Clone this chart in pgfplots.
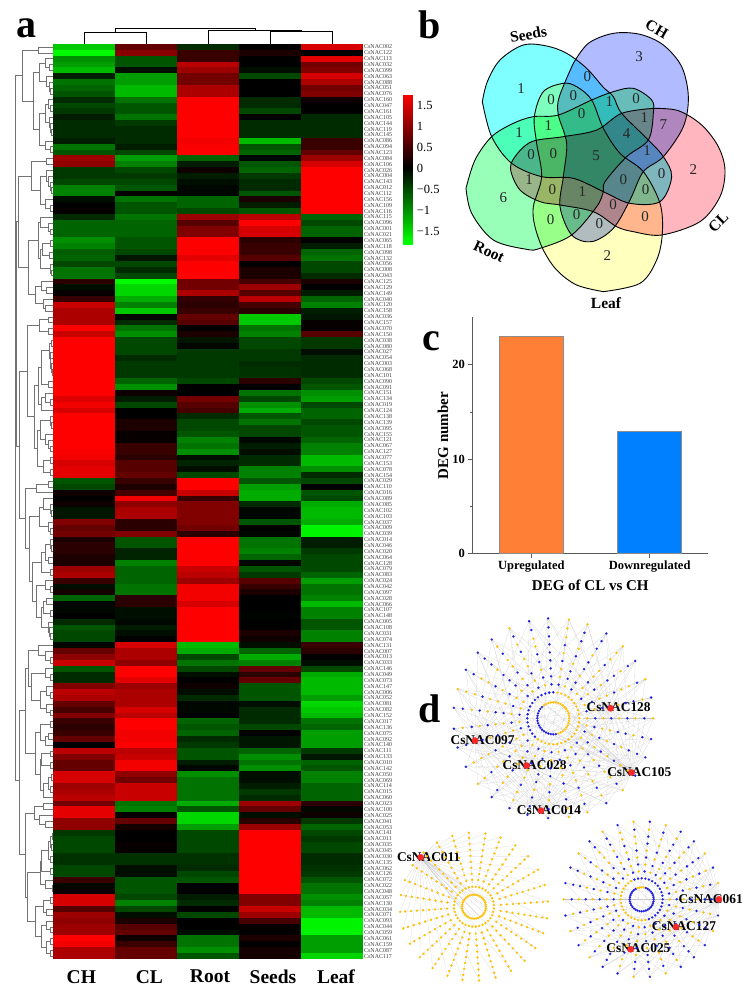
\documentclass[border=0pt]{standalone}
\usepackage{fontspec}
\setmainfont{Liberation Serif}
\usepackage{pgfplots}
\usepackage{pgfplotstable}
\usepgfplotslibrary{polar}
\pgfplotsset{compat=1.18}

\definecolor{netblue}{RGB}{30,30,225}
\definecolor{netgold}{RGB}{255,192,0}
\definecolor{nethub}{RGB}{250,40,40}

\pgfdeclareplotmark{heatbox}{\pgfpathrectangle{\pgfpoint{-31.05pt}{-3pt}}{\pgfpoint{62.1pt}{6pt}}\pgfusepathqfill}
\pgfdeclareplotmark{cbcell}{\pgfpathrectangle{\pgfpoint{-4.7pt}{-1.2pt}}{\pgfpoint{9.4pt}{2.4pt}}\pgfusepathqfill}

\pgfplotsset{
  plain/.style={scale only axis, hide axis, clip=false, point meta=none},
  heatcol/.style={colormap={rg}{rgb255=(0,255,0) rgb255=(0,0,0) rgb255=(255,0,0)}, point meta min=-1.78, point meta max=1.78},
  heatcell/.style={scatter, only marks, mark=heatbox},
  dtree/.style={draw=black!55, line width=.45pt, forget plot},
  netedge/.style={draw=black!22, line width=.1pt, forget plot, data cs=polar},
  bdot/.style={scatter=false, only marks, color=netblue, mark=*, mark size=1.15pt, mark options={draw=netblue, fill=netblue, line width=.1pt}, data cs=polar},
  gdot/.style={scatter=false, only marks, color=netgold, mark=*, mark size=1.15pt, mark options={draw=netgold, fill=netgold, line width=.1pt}, data cs=polar},
  hubdot/.style={scatter=false, only marks, color=nethub, mark=*, mark size=3.2pt, mark options={draw=nethub, fill=nethub, line width=.1pt}, data cs=polar},
  petal/.style={smooth, tension=0.55, draw=black, line width=.9pt, blend mode=multiply},
}
\newcommand\B[5]{\addplot[dtree] coordinates {(#4,#2)(#1,#2)(#1,#3)(#5,#3)};}
\newcommand\fan[4]{\foreach \a in #4 {\edef\temp{\noexpand\addplot[netedge] coordinates {(#1,#2)(\a,#3)};}\temp}}
\newcommand\spokes[3]{\foreach \a in #3 {\edef\temp{\noexpand\addplot[netedge] coordinates {(\a,#1)(\a,#2)};}\temp}}
\newcommand\netlabel[2]{\node[font=\fontsize{13.4}{13.4}\selectfont\bfseries, inner sep=0pt] at (axis cs:#1) {#2};}

\def\raysA{0,12,23,35,46,58,70,81,93,104,116,128,139,151,163,174,186,197,209,221,232,244,255,267,279,290,302,314,325,337,348}
\def\raysB{4,17,30,43,56,69,81,94,107,120,133,146,159,171,184,197,210,223,236,249,261,274,287,300,313,326,339,351}
\def\raysC{0,12,24,36,48,60,72,84,96,108,120,132,144,156,168,180,192,204,216,228,240,252,264,276,288,300,312,324,336,348}
\def\ringA{0,40,80,120,160,200,240,280,320}
\def\ringB{0,30,60,90,120,150,180,210,240,270,300,330}

\pgfplotstableread{
name CH CL Root Seeds Leaf
CsNAC002 -1.4 0.7 -0.3 0 1.5
CsNAC122 -1.75 0.95 0.4 0.2 0
CsNAC113 -1.0 -0.6 0.4 0 1.6
CsNAC032 -1.1 -0.6 1.3 0 0.8
CsNAC099 -1.3 -0.1 1.1 -0.1 0.9
CsNAC063 -0.2 -1.1 0.8 -0.5 1.5
CsNAC088 -0.8 -1.1 0.8 0 1.2
CsNAC051 -0.7 -1.3 1.2 0 0.8
CsNAC076 -0.6 -1.3 1.2 0 0.9
CsNAC160 -0.3 -0.8 1.8 -0.3 0.1
CsNAC047 -0.5 -0.6 1.8 -0.3 0
CsNAC161 -0.4 -0.6 1.8 -0.5 0
CsNAC105 -0.2 -0.8 1.8 0 -0.3
CsNAC144 -0.3 -0.4 1.8 -0.3 -0.3
CsNAC119 -0.3 -0.3 1.8 -0.3 -0.3
CsNAC145 -0.3 -0.3 1.8 -0.3 -0.3
CsNAC086 -0.2 -0.3 1.7 -1.3 0.4
CsNAC094 -0.8 -0.2 1.75 -0.6 0.4
CsNAC123 -0.6 -0.5 1.8 -0.7 0.7
CsNAC084 1.1 -1.1 -0.7 -0.05 1.1
CsNAC106 1.0 -0.9 -0.2 -0.6 1.5
CsNAC026 -0.4 -0.5 0.1 -0.7 1.8
CsNAC004 -0.4 -0.4 -0.2 -0.4 1.8
CsNAC143 -0.5 -0.5 -0.1 -0.3 1.8
CsNAC012 -0.9 -0.6 -0.05 -0.3 1.8
CsNAC112 -0.9 0.05 -0.05 -0.6 1.8
CsNAC156 -0.1 -0.8 -0.7 0.2 1.8
CsNAC109 0 -0.6 -0.7 -0.2 1.8
CsNAC116 0.05 -0.6 -0.5 -0.6 1.8
CsNAC115 -0.3 -0.8 1.1 1.3 -0.7
CsNAC096 -0.7 -0.7 0.6 1.8 -0.5
CsNAC001 -0.7 -0.7 0.9 1.5 -0.7
CsNAC021 -0.7 -0.7 0.9 1.5 -0.7
CsNAC065 -1.0 -0.6 1.8 0.3 0
CsNAC118 -0.9 -0.6 1.8 0.4 -0.2
CsNAC098 -0.65 -0.5 1.8 0.4 -0.7
CsNAC132 -0.7 -0.15 1.6 0.6 -0.8
CsNAC056 -0.5 -0.5 1.8 0 -0.5
CsNAC008 -0.8 -0.3 1.8 0.2 -0.5
CsNAC043 -0.8 -0.5 1.8 0.2 -0.3
CsNAC125 0.3 -1.75 0.8 0.5 0.2
CsNAC129 -0.1 -1.5 0.8 1.1 0
CsNAC149 0.05 -1.5 1.2 0.6 -0.2
CsNAC040 0.4 -1.2 0.35 1.3 -0.7
CsNAC120 1.4 -0.9 0.3 0.5 -0.9
CsNAC158 1.2 -1.4 0.4 0.3 -0.2
CsNAC036 1.2 -0.05 0.7 -1.4 -0.15
CsNAC157 1.2 -0.3 0.6 -1.4 0.05
CsNAC070 1.8 -0.8 0 -0.8 0.05
CsNAC150 1.4 -1.0 0.2 -0.9 0.6
CsNAC038 1.8 -0.5 -0.15 -0.5 -0.4
CsNAC080 1.8 -0.5 -0.05 -0.5 -0.4
CsNAC027 1.8 -0.5 -0.4 -0.4 -0.1
CsNAC054 1.8 -0.3 -0.4 -0.4 -0.3
CsNAC003 1.8 -0.4 -0.4 -0.3 -0.3
CsNAC068 1.8 -0.4 -0.4 -0.35 -0.3
CsNAC101 1.8 -0.4 -0.4 -0.35 -0.3
CsNAC090 1.8 -0.7 -0.5 0.3 -0.5
CsNAC091 1.8 -1.0 0 0 -0.6
CsNAC151 1.8 0.1 0 -0.8 -1.0
CsNAC134 1.55 -0.2 0.8 -0.5 -1.1
CsNAC019 1.7 -0.5 0.6 -1.0 -0.5
CsNAC124 1.5 0 0.5 -1.2 -0.7
CsNAC138 1.8 0 -0.3 -0.6 -0.7
CsNAC139 1.8 0.2 -0.5 -0.8 -0.5
CsNAC095 1.8 0.2 -0.5 -0.5 -0.6
CsNAC155 1.8 0.05 -0.6 -0.5 -0.6
CsNAC121 1.8 0.05 -0.9 -0.05 -0.7
CsNAC067 1.8 0.4 -0.8 -0.2 -0.9
CsNAC127 1.75 0.4 -1.0 -0.1 -0.9
CsNAC077 1.7 0.3 -0.1 -0.3 -1.3
CsNAC153 1.5 0.6 -0.25 -0.3 -1.3
CsNAC078 1.6 0.6 -0.1 -0.9 -1.0
CsNAC154 1.6 0.7 -0.5 -0.9 -0.3
CsNAC029 -0.6 0.4 1.8 -0.6 -0.5
CsNAC110 -0.5 0.2 1.8 -1.1 0
CsNAC016 0.1 0.5 1.4 -1.2 -0.6
CsNAC089 0 1.7 0.4 -1.2 -0.5
CsNAC085 0.1 1.0 0.9 -0.3 -1.2
CsNAC102 -0.15 1.2 0.9 -0.05 -1.3
CsNAC103 -0.15 1.2 0.9 -0.05 -1.3
CsNAC037 0.9 0.3 0.9 -0.6 -1.2
CsNAC009 0.7 0.3 0.8 0 -1.7
CsNAC039 0.8 0.9 0.3 -0.05 -1.7
CsNAC014 0.2 -0.6 1.8 -0.8 -0.2
CsNAC046 0.3 -0.6 1.8 -0.8 -0.2
CsNAC020 0.3 -0.25 1.8 -0.9 -0.4
CsNAC064 0.2 -0.25 1.8 -0.7 -0.5
CsNAC128 0.2 -0.9 1.8 -0.05 -0.5
CsNAC079 1.1 -0.7 1.4 -0.6 -0.5
CsNAC083 1.2 -0.7 1.3 -0.4 -0.7
CsNAC024 0.4 -0.7 1.1 0.6 -1.1
CsNAC042 -0.1 -0.8 1.7 0.4 -0.8
CsNAC097 0.15 -0.8 1.7 0.2 -0.8
CsNAC028 -0.7 0.3 1.7 0 -0.9
CsNAC066 -0.05 0.3 1.5 0 -1.3
CsNAC107 -0.05 -0.1 1.8 0 -0.9
CsNAC148 0 -0.1 1.8 -0.03 -0.9
CsNAC005 -0.3 -0.05 1.8 0 -0.6
CsNAC108 -0.6 -0.2 1.8 0 -0.6
CsNAC031 -0.5 -0.1 1.8 0.2 -0.9
CsNAC074 -0.5 0 1.8 0.1 -0.9
CsNAC131 -0.05 1.5 -1.3 -0.1 0.4
CsNAC007 0.7 1.2 -1.2 -0.7 0.3
CsNAC013 1.0 1.2 -0.5 -1.2 0
CsNAC033 1.4 1.0 -0.8 -0.9 -0.1
CsNAC146 -0.6 1.8 -0.5 0.7 -0.5
CsNAC049 -0.3 1.8 -0.1 0.3 -1.2
CsNAC073 -0.3 1.6 0 0.7 -1.3
CsNAC147 0.9 1.1 0.1 -0.6 -1.3
CsNAC006 1.3 1.2 -0.1 -0.6 -1.3
CsNAC052 1.2 1.2 -0.3 -0.6 -1.1
CsNAC081 0.7 1.2 -0.05 -0.1 -1.5
CsNAC082 0.5 1.5 -0.05 -0.3 -1.4
CsNAC152 0.9 1.3 0 -0.3 -1.3
CsNAC017 0.4 1.8 -0.7 -0.3 -0.8
CsNAC136 0.3 1.8 -0.6 -0.5 -0.7
CsNAC075 0.4 1.7 -0.7 0 -1.1
CsNAC092 0.7 1.7 -0.3 -0.15 -1.1
CsNAC140 0 1.8 -0.4 -0.15 -1.1
CsNAC111 1.3 1.3 -0.6 -0.7 -0.4
CsNAC133 0.9 1.4 -0.6 -1.0 -0.15
CsNAC010 0.7 1.7 -0.2 -0.8 -0.7
CsNAC142 0.7 1.7 -0.05 -1.0 -0.6
CsNAC050 1.5 1.0 -1.0 -0.1 -0.9
CsNAC069 1.5 0.8 -0.8 -0.1 -0.9
CsNAC114 1.1 1.4 -0.8 -0.2 -0.7
CsNAC015 1.2 1.4 -0.8 -0.4 -0.7
CsNAC060 1.3 1.4 -0.8 -0.3 -0.7
CsNAC023 0.8 -0.8 -1.2 1.1 0.3
CsNAC100 1.6 -0.9 -0.6 0.7 -0.05
CsNAC025 1.6 0.05 -1.5 -0.1 0.1
CsNAC041 1.0 0.7 -1.5 0.3 -0.4
CsNAC053 1.0 0.15 -1.1 1.1 -0.7
CsNAC141 -0.4 0 -0.5 1.8 -0.5
CsNAC011 -0.5 0 -0.5 1.8 -0.4
CsNAC035 -0.5 0.05 -0.5 1.8 -0.5
CsNAC045 -0.5 0.05 -0.5 1.8 -0.5
CsNAC030 -0.35 -0.35 -0.35 1.8 -0.3
CsNAC135 -0.35 -0.35 -0.35 1.8 -0.3
CsNAC062 -0.5 -0.1 -0.3 1.8 -0.35
CsNAC126 -0.5 -0.1 -0.5 1.8 -0.4
CsNAC072 0.4 -0.6 -0.6 1.8 -0.6
CsNAC022 -0.05 -0.6 0 1.8 -0.8
CsNAC048 0.1 -0.6 0 1.8 -0.8
CsNAC057 1.5 -0.5 -0.2 0.9 -1.0
CsNAC130 1.5 -0.9 -0.3 0.9 -0.9
CsNAC034 0.6 -0.5 0 1.4 -1.3
CsNAC071 1.1 -0.1 -0.5 1.1 -1.3
CsNAC093 1.0 0.2 0 0.5 -1.7
CsNAC044 1.1 0.6 0 0.05 -1.7
CsNAC059 1.1 0.7 -0.1 0 -1.7
CsNAC061 1.8 0.1 -0.8 0.2 -1.1
CsNAC159 1.7 0.4 -0.8 0 -1.1
CsNAC087 1.2 0.7 -1.0 0.15 -1.1
CsNAC117 1.2 0.7 -0.6 0.15 -1.5
}\heat

\begin{document}
\begin{tikzpicture}
\useasboundingbox (0,0) rectangle (749pt,996pt);

% a: row dendrogram, x in 1/3 px, y in rows
\begin{axis}[plain, at={(0pt,37pt)}, anchor=south west, width=53.3pt, height=915pt, xmin=0, xmax=160, ymin=-0.5, ymax=155.5, y dir=reverse]
\B{115}{0}{1}{160}{160}\B{147}{3}{4}{160}{160}\B{135}{2}{3.5}{160}{147}\B{150}{7}{8}{160}{160}\B{148}{6}{7.5}{160}{150}\B{140}{5}{6.75}{160}{148}\B{118}{2.75}{5.9}{135}{140}
\B{155}{14}{15}{160}{160}\B{152}{13}{14.5}{160}{155}\B{148}{12}{13.75}{160}{152}\B{150}{10}{11}{160}{160}\B{145}{9}{10.5}{160}{150}\B{135}{9.75}{12.9}{145}{148}
\B{150}{17}{18}{160}{160}\B{135}{16}{17.5}{160}{150}\B{118}{11.3}{16.75}{135}{135}\B{100}{4.3}{14}{118}{118}\B{68}{0.5}{9.2}{115}{100}
\B{140}{19}{20}{160}{160}\B{155}{24}{25}{160}{160}\B{150}{23}{24.5}{160}{155}\B{145}{22}{23.75}{160}{150}\B{140}{21}{22.9}{160}{145}\B{150}{27}{28}{160}{160}\B{135}{26}{27.5}{160}{150}\B{122}{22}{26.75}{140}{135}\B{95}{19.5}{24.4}{140}{122}
\B{150}{31}{32}{160}{160}\B{145}{30}{31.5}{160}{150}\B{120}{29}{30.7}{160}{145}\B{150}{33}{34}{160}{160}\B{147}{35}{36}{160}{160}\B{128}{33.5}{35.5}{150}{147}\B{155}{38}{39}{160}{160}\B{150}{37}{38.5}{160}{155}\B{120}{34.5}{37.75}{128}{150}\B{115}{29.85}{36.1}{120}{120}
\B{140}{41}{42}{160}{160}\B{125}{40}{41.5}{160}{140}\B{135}{44}{45}{160}{160}\B{130}{43}{44.5}{160}{135}\B{105}{40.75}{43.75}{125}{130}\B{85}{33}{42.2}{115}{105}\B{55}{22}{37.6}{95}{85}
\B{145}{46}{47}{160}{160}\B{145}{48}{49}{160}{160}\B{118}{46.5}{48.5}{145}{145}
\B{155}{50}{51}{160}{160}\B{158}{55}{56}{160}{160}\B{155}{54}{55.5}{160}{158}\B{152}{53}{54.7}{160}{155}\B{150}{52}{53.9}{160}{152}\B{148}{50.5}{53}{155}{150}\B{145}{57}{58}{160}{160}\B{125}{51.7}{57.5}{148}{145}
\B{150}{60}{61}{160}{160}\B{135}{59}{60.5}{160}{150}\B{125}{59.8}{62}{135}{160}
\B{155}{64}{65}{160}{160}\B{150}{63}{64.5}{160}{155}\B{150}{68}{69}{160}{160}\B{145}{67}{68.5}{160}{150}\B{135}{66}{67.7}{160}{145}\B{120}{63.7}{66.9}{150}{135}
\B{150}{70}{71}{160}{160}\B{150}{72}{73}{160}{160}\B{130}{70.5}{72.5}{150}{150}
\B{115}{54.6}{60.9}{125}{125}\B{113}{65.3}{71.5}{120}{130}\B{103}{57.7}{68.4}{115}{113}\B{83}{47.5}{63}{118}{103}
\B{145}{74}{75}{160}{160}\B{110}{74.5}{76}{145}{160}\B{155}{79}{80}{160}{160}\B{150}{78}{79.5}{160}{155}\B{130}{77}{78.8}{160}{150}\B{150}{82}{83}{160}{160}\B{145}{81}{82.5}{160}{150}\B{118}{78.5}{81.7}{130}{145}
\B{155}{85}{86}{160}{160}\B{150}{84}{85.5}{160}{155}\B{145}{87}{88}{160}{160}\B{135}{84.8}{87.5}{150}{145}\B{150}{89}{90}{160}{160}\B{125}{86.1}{89.5}{135}{150}
\B{150}{92}{93}{160}{160}\B{135}{91}{92.5}{160}{150}\B{150}{96}{97}{160}{160}\B{140}{94}{95}{160}{160}\B{130}{94.5}{96.5}{140}{150}\B{150}{100}{101}{160}{160}\B{148}{99}{100.5}{160}{150}\B{145}{98}{99.8}{160}{148}\B{125}{95.5}{98.9}{130}{145}\B{110}{91.7}{97.2}{135}{125}
\B{98}{87.8}{94.5}{125}{110}\B{88}{80}{91.1}{118}{98}\B{75}{75.2}{85.5}{110}{88}\B{58}{55.3}{80.4}{83}{75}
\B{150}{104}{105}{160}{160}\B{135}{103}{104.5}{160}{150}\B{115}{102}{103.7}{160}{135}\B{150}{107}{108}{160}{160}\B{135}{106}{107.5}{160}{150}
\B{150}{110}{111}{160}{160}\B{140}{109}{110.5}{160}{150}\B{150}{113}{114}{160}{160}\B{140}{112}{113.5}{160}{150}\B{120}{109.8}{112.8}{140}{140}\B{95}{106.8}{111.3}{135}{120}\B{85}{102.9}{109}{115}{95}
\B{150}{115}{116}{160}{160}\B{145}{117}{118}{160}{160}\B{135}{117.5}{119}{145}{160}\B{120}{115.5}{118.2}{150}{135}\B{150}{120}{121}{160}{160}\B{150}{122}{123}{160}{160}\B{125}{120.5}{122.5}{150}{150}
\B{155}{124}{125}{160}{160}\B{150}{126}{127}{160}{160}\B{145}{124.5}{126.5}{155}{150}\B{130}{125.5}{128}{145}{160}\B{122}{121.5}{126.7}{125}{130}\B{105}{116.9}{124}{120}{122}\B{75}{106}{120.5}{85}{105}
\B{130}{129}{130}{160}{160}\B{135}{132}{133}{160}{160}\B{118}{131}{132.5}{160}{135}\B{102}{129.5}{131.7}{130}{118}
\B{158}{134}{135}{160}{160}\B{155}{136}{137}{160}{160}\B{152}{134.5}{136.5}{158}{155}\B{150}{138}{139}{160}{160}\B{145}{135.5}{138.5}{152}{150}\B{150}{140}{141}{160}{160}\B{125}{137}{140.5}{145}{150}\B{158}{143}{144}{160}{160}\B{135}{142}{143.5}{160}{158}\B{122}{138.8}{142.7}{125}{135}
\B{150}{145}{146}{160}{160}\B{140}{147}{148}{160}{160}\B{130}{145.5}{147.5}{150}{140}\B{150}{150}{151}{160}{160}\B{140}{149}{150.5}{160}{150}\B{150}{152}{153}{160}{160}\B{150}{154}{155}{160}{160}\B{138}{152.5}{154.5}{150}{150}\B{125}{149.7}{153.5}{140}{138}\B{105}{146.5}{151.6}{130}{125}
\B{82}{140.7}{149}{122}{105}\B{75}{130.6}{144.9}{102}{82}\B{58}{113}{137.7}{75}{75}
\B{50}{29.8}{68}{55}{58}\B{47}{4.85}{125}{68}{58}
\addplot[dtree] coordinates {(47,48.9)(50,48.9)};
\end{axis}

% b: Venn outlines in 1/3 px of this panel
\begin{axis}[plain, at={(400pt,676pt)}, anchor=south west, width=349pt, height=320pt, xmin=0, xmax=1047, ymin=0, ymax=960, y dir=reverse]
\addplot[petal, fill={rgb,255:red,127;green,255;blue,255}] coordinates {(247,305)(262,245)(300,180)(370,135)(440,138)(500,160)(560,205)(610,262)(640,290)(665,340)(745,420)(790,470)(815,530)(780,605)(690,610)(610,575)(520,535)(425,530)(335,490)(275,410)(247,305)};
\addplot[petal, fill={rgb,255:red,176;green,188;blue,255}] coordinates {(520,190)(565,130)(640,100)(720,103)(790,135)(845,200)(865,290)(850,380)(790,470)(730,515)(690,600)(640,685)(575,725)(515,705)(480,620)(490,530)(500,430)(475,345)(478,290)(520,190)};
\addplot[petal, fill={rgb,255:red,255;green,182;blue,190}] coordinates {(760,325)(835,332)(905,375)(955,440)(975,510)(960,590)(900,665)(785,705)(700,695)(650,680)(580,635)(480,615)(420,605)(360,570)(332,510)(345,470)(395,425)(490,410)(590,390)(665,340)(760,325)};
\addplot[petal, fill={rgb,255:red,255;green,255;blue,190}] coordinates {(610,875)(530,855)(470,810)(430,750)(405,680)(400,620)(425,530)(410,430)(403,350)(430,275)(490,250)(530,260)(575,300)(610,385)(660,460)(730,515)(780,610)(787,700)(770,780)(720,850)(610,875)};
\addplot[petal, fill={rgb,255:red,152;green,255;blue,185}] coordinates {(198,565)(225,480)(275,410)(340,370)(400,350)(475,345)(575,300)(640,275)(700,265)(755,300)(760,340)(745,420)(680,470)(615,545)(610,575)(590,620)(515,705)(420,745)(380,748)(280,720)(215,640)(198,565)};
\begin{scope}[every node/.style={font=\fontsize{15}{15}\selectfont, inner sep=0pt, text=black!85}]
\node at (axis cs:363,265) {1}; \node at (axis cs:717,170) {3}; \node at (axis cs:562,230) {0}; \node at (axis cs:453,298) {0};
\node at (axis cs:520,288) {0}; \node at (axis cs:628,305) {1}; \node at (axis cs:708,295) {0}; \node at (axis cs:545,342) {0};
\node at (axis cs:357,397) {1}; \node at (axis cs:445,377) {1}; \node at (axis cs:733,352) {1}; \node at (axis cs:790,373) {7};
\node at (axis cs:680,400) {4}; \node at (axis cs:393,463) {0}; \node at (axis cs:460,462) {0}; \node at (axis cs:588,468) {5};
\node at (axis cs:741,452) {1}; \node at (axis cs:880,510) {2}; \node at (axis cs:785,522) {0}; \node at (axis cs:387,540) {1};
\node at (axis cs:457,568) {0}; \node at (axis cs:670,540) {0}; \node at (axis cs:737,568) {0}; \node at (axis cs:547,575) {1};
\node at (axis cs:310,592) {6}; \node at (axis cs:639,615) {0}; \node at (axis cs:452,660) {0}; \node at (axis cs:530,645) {0};
\node at (axis cs:598,672) {0}; \node at (axis cs:735,650) {0}; \node at (axis cs:622,768) {2};
\end{scope}
\begin{scope}[every node/.style={font=\fontsize{15.5}{15.5}\selectfont\bfseries, inner sep=0pt}]
\node[rotate=10] at (axis cs:385,103) {Seeds}; \node[rotate=-30] at (axis cs:770,88) {CH};
\node[rotate=45] at (axis cs:955,668) {CL}; \node[rotate=-25] at (axis cs:267,755) {Root};
\node at (axis cs:618,910) {Leaf};
\end{scope}
\end{axis}

% c: bar chart
\begin{axis}[at={(472.3pt,442.3pt)}, anchor=south west, scale only axis, width=236pt, height=236.4pt, clip=false,
  xmin=-0.4986, xmax=1.496, ymin=0, ymax=25, axis lines=left, axis line style={-, draw=black!65, line width=.7pt},
  tick style={draw=black!65, line width=.6pt}, tick align=outside, major tick length=4pt, minor tick length=2.5pt,
  xtick={0,1}, xticklabels={Upregulated,Downregulated}, ytick={0,10,20}, minor y tick num=1,
  /pgf/number format/assume math mode=true, tick label style={font=\fontsize{12.5}{12.5}\selectfont\bfseries},
  xlabel={DEG of CL vs CH}, ylabel={DEG number},
  xlabel style={font=\fontsize{15}{15}\selectfont\bfseries},
  ylabel style={font=\fontsize{15}{15}\selectfont\bfseries, yshift=-3pt}]
\addplot[ybar, bar width=64pt, bar shift=0pt, fill={rgb,255:red,255;green,127;blue,54}, draw=black!45] coordinates {(0,23)};
\addplot[ybar, bar width=64pt, bar shift=0pt, fill={rgb,255:red,0;green,127;blue,255}, draw=black!45] coordinates {(1,13)};
\end{axis}

% d: networks, points as (angle, radius in px) about each centre
\begin{axis}[plain, at={(553.3pt,277.7pt)}, anchor=center, width=220pt, height=220pt, xmin=-110, xmax=110, ymin=-110, ymax=110]
\spokes{30}{100}{\raysA}
\fan{9.9}{58.2}{100}{\raysA}\fan{195.9}{81.4}{100}{\raysA}\fan{240.6}{54.3}{100}{\raysA}\fan{325.3}{95.3}{100}{\raysA}\fan{262.4}{93.1}{100}{\raysA}
\fan{325.3}{95.3}{16}{\ringA}
\addplot[bdot] coordinates {
(0,42)(0,58)(0,74)(0,91)(12,34)(12,50)(12,58)(12,74)(12,82)(12,100)(23,42)(23,66)(23,91)(35,34)(35,50)(35,66)(35,74)(35,91)(35,100)(46,50)(46,74)
(58,34)(58,42)(58,58)(58,66)(58,82)(58,91)(58,100)(70,42)(70,50)(70,66)(70,82)(70,91)(81,34)(81,58)(81,74)(93,34)(93,42)(93,50)(93,58)(93,66)(93,74)(93,82)(93,91)(93,100)
(104,42)(104,58)(104,66)(104,91)(104,100)(116,34)(116,50)(116,74)(116,91)(128,42)(128,58)(128,82)(128,100)(139,34)(139,50)(139,58)(139,66)(139,82)(139,91)(139,100)
(151,50)(151,66)(151,91)(151,100)(163,42)(163,74)(174,34)(174,50)(174,58)(174,74)(174,91)(174,100)(186,42)(186,66)(186,82)(186,100)(197,34)(197,58)(197,74)(197,91)(197,100)
(209,50)(209,66)(209,100)(221,34)(221,58)(221,82)(232,42)(232,66)(232,91)(232,100)(244,34)(244,50)(244,74)(244,100)(255,42)(255,58)(255,66)(255,82)(255,91)(255,100)
(267,34)(267,50)(267,58)(267,74)(267,91)(267,100)(279,42)(279,66)(279,82)(290,34)(290,50)(290,74)(290,91)(302,42)(302,58)(302,82)(302,100)(314,34)(314,50)(314,66)(314,91)
(325,42)(325,58)(325,74)(325,100)(337,34)(337,50)(337,66)(337,82)(337,91)(337,100)(348,42)(348,66)(348,74)(348,91)(348,100)
(135,16)(144,16)(153,16)(162,16)(171,16)(180,16)(189,16)(198,16)(207,16)(216,16)(225,16)(234,16)(243,16)(252,16)(261,16)(270,16)(279,16)
(90,26)(99,26)(108,26)(117,26)(126,26)(135,26)(144,26)(153,26)(162,26)(171,26)(180,26)(189,26)(198,26)(207,26)(216,26)(225,26)};
\addplot[gdot] coordinates {
(0,34)(0,50)(0,66)(0,82)(0,100)(12,42)(12,66)(12,91)(23,34)(23,50)(23,58)(23,74)(23,82)(23,100)(35,42)(35,58)(35,82)(46,34)(46,42)(46,58)(46,66)(46,82)(46,91)(46,100)
(58,50)(58,74)(70,34)(70,58)(70,74)(70,100)(81,42)(81,50)(81,66)(81,82)(81,91)(81,100)(104,34)(104,50)(104,74)(104,82)(116,42)(116,58)(116,66)(116,82)(116,100)
(128,34)(128,50)(128,66)(128,74)(128,91)(139,42)(139,74)(151,34)(151,42)(151,58)(151,74)(151,82)(163,34)(163,50)(163,58)(163,66)(163,82)(163,91)(163,100)
(174,42)(174,66)(174,82)(186,34)(186,50)(186,58)(186,74)(186,91)(197,42)(197,50)(197,66)(197,82)(209,34)(209,42)(209,58)(209,74)(209,82)(209,91)
(221,42)(221,50)(221,66)(221,74)(221,91)(221,100)(232,34)(232,50)(232,58)(232,74)(232,82)(244,42)(244,58)(244,66)(244,82)(244,91)(255,34)(255,50)(255,74)
(267,42)(267,66)(267,82)(279,34)(279,50)(279,58)(279,74)(279,91)(279,100)(290,42)(290,58)(290,66)(290,82)(290,100)(302,34)(302,50)(302,66)(302,74)(302,91)
(314,42)(314,58)(314,74)(314,82)(314,100)(325,34)(325,50)(325,66)(325,82)(325,91)(337,42)(337,58)(337,74)(348,34)(348,50)(348,58)(348,82)
(288,16)(297,16)(306,16)(315,16)(324,16)(333,16)(342,16)(351,16)(0,16)(9,16)(18,16)(27,16)(36,16)(45,16)(54,16)(63,16)(72,16)(81,16)(90,16)(99,16)(108,16)(117,16)(126,16)
(234,26)(243,26)(252,26)(261,26)(270,26)(279,26)(288,26)(297,26)(306,26)(315,26)(324,26)(333,26)(342,26)(351,26)(0,26)(9,26)(18,26)(27,26)(36,26)(45,26)(54,26)(63,26)(72,26)(81,26)};
\addplot[hubdot] coordinates {(9.9,58.2)(195.9,81.4)(240.6,54.3)(325.3,95.3)(262.4,93.1)};
\netlabel{65.3,10.7}{CsNAC128}\netlabel{-70.7,-21.7}{CsNAC097}\netlabel{-18.7,-46.7}{CsNAC028}\netlabel{86,-53.7}{CsNAC105}\netlabel{-4.3,-91.7}{CsNAC014}
\end{axis}

\begin{axis}[plain, at={(474pt,89.3pt)}, anchor=center, width=180pt, height=180pt, xmin=-90, xmax=90, ymin=-90, ymax=90]
\spokes{24}{74}{\raysB}
\fan{137.2}{72.7}{74}{\raysB}
\fan{137.2}{72.7}{12}{\ringB}
\addplot[gdot] coordinates {
(4,27)(4,33)(4,39)(4,45)(4,51)(4,57)(4,63)(4,69)(4,74)(17,27)(17,33)(17,39)(17,45)(17,51)(17,57)(17,63)(17,69)(17,74)(30,27)(30,33)(30,39)(30,45)(30,51)(30,57)(30,63)(30,69)(30,74)
(43,27)(43,33)(43,39)(43,45)(43,51)(43,57)(43,63)(43,69)(43,74)(56,27)(56,33)(56,39)(56,45)(56,51)(56,57)(56,63)(56,69)(56,74)(69,27)(69,33)(69,39)(69,45)(69,51)(69,57)(69,63)(69,69)(69,74)
(81,27)(81,33)(81,39)(81,45)(81,51)(81,57)(81,63)(81,69)(81,74)(94,27)(94,33)(94,39)(94,45)(94,51)(94,57)(94,63)(94,69)(94,74)(107,27)(107,33)(107,39)(107,45)(107,51)(107,57)(107,63)(107,69)(107,74)
(120,27)(120,33)(120,39)(120,45)(120,51)(120,57)(120,63)(120,69)(120,74)(133,27)(133,33)(133,39)(133,45)(133,51)(133,57)(133,63)(133,69)(133,74)(146,27)(146,33)(146,39)(146,45)(146,51)(146,57)(146,63)(146,69)(146,74)
(159,27)(159,33)(159,39)(159,45)(159,51)(159,57)(159,63)(159,69)(159,74)(171,27)(171,33)(171,39)(171,45)(171,51)(171,57)(171,63)(171,69)(171,74)(184,27)(184,33)(184,39)(184,45)(184,51)(184,57)(184,63)(184,69)(184,74)
(197,27)(197,33)(197,39)(197,45)(197,51)(197,57)(197,63)(197,69)(197,74)(210,27)(210,33)(210,39)(210,45)(210,51)(210,57)(210,63)(210,69)(210,74)(223,27)(223,33)(223,39)(223,45)(223,51)(223,57)(223,63)(223,69)(223,74)
(236,27)(236,33)(236,39)(236,45)(236,51)(236,57)(236,63)(236,69)(236,74)(249,27)(249,33)(249,39)(249,45)(249,51)(249,57)(249,63)(249,69)(249,74)(261,27)(261,33)(261,39)(261,45)(261,51)(261,57)(261,63)(261,69)(261,74)
(274,27)(274,33)(274,39)(274,45)(274,51)(274,57)(274,63)(274,69)(274,74)(287,27)(287,33)(287,39)(287,45)(287,51)(287,57)(287,63)(287,69)(287,74)(300,27)(300,33)(300,39)(300,45)(300,51)(300,57)(300,63)(300,69)(300,74)
(313,27)(313,33)(313,39)(313,45)(313,51)(313,57)(313,63)(313,69)(313,74)(326,27)(326,33)(326,39)(326,45)(326,51)(326,57)(326,63)(326,69)(326,74)(339,27)(339,33)(339,39)(339,45)(339,51)(339,57)(339,63)(339,69)(339,74)
(351,27)(351,33)(351,39)(351,45)(351,51)(351,57)(351,63)(351,69)(351,74)
(0,12)(10,12)(20,12)(30,12)(40,12)(50,12)(60,12)(70,12)(80,12)(90,12)(100,12)(110,12)(120,12)(130,12)(140,12)(150,12)(160,12)(170,12)(180,12)(190,12)(200,12)(210,12)(220,12)(230,12)(240,12)(250,12)(260,12)(270,12)(280,12)(290,12)(300,12)(310,12)(320,12)(330,12)(340,12)(350,12)
(5,20)(15,20)(25,20)(35,20)(45,20)(55,20)(65,20)(75,20)(85,20)(95,20)(105,20)(115,20)(125,20)(135,20)(145,20)(155,20)(165,20)(175,20)(185,20)(195,20)(205,20)(215,20)(225,20)(235,20)(245,20)(255,20)(265,20)(275,20)(285,20)(295,20)(305,20)(315,20)(325,20)(335,20)(345,20)(355,20)};
\addplot[hubdot] coordinates {(137.2,72.7)};
\netlabel{-45.3,50}{CsNAC011}
\end{axis}

\begin{axis}[plain, at={(641.7pt,96.7pt)}, anchor=center, width=180pt, height=180pt, xmin=-90, xmax=90, ymin=-90, ymax=90]
\spokes{26}{78}{\raysC}
\fan{0}{77.3}{78}{\raysC}\fan{321.1}{44.1}{78}{\raysC}\fan{257.6}{51.2}{78}{\raysC}
\addplot[bdot] coordinates {
(0,35)(0,49)(0,63)(0,70)(0,78)(12,28)(12,42)(12,56)(12,70)(24,35)(24,49)(24,63)(24,78)(36,28)(36,42)(36,56)(36,63)(36,70)(48,35)(48,49)(48,70)(48,78)
(60,28)(60,42)(60,56)(60,63)(60,78)(72,35)(72,49)(72,70)(84,28)(84,42)(84,56)(84,63)(84,78)(96,35)(96,49)(96,70)(108,28)(108,42)(108,56)(108,78)(120,35)(120,49)(120,63)(120,70)
(132,28)(132,42)(132,70)(132,78)(144,35)(144,49)(144,63)(156,28)(156,42)(156,56)(156,70)(156,78)(168,35)(168,49)(168,63)(168,70)(168,78)(180,28)(180,42)(180,56)(180,70)(192,35)(192,49)(192,63)(192,78)
(204,28)(204,42)(204,56)(204,70)(216,35)(216,49)(216,63)(216,78)(228,28)(228,42)(228,56)(228,70)(240,35)(240,49)(240,63)(240,70)(240,78)(252,28)(252,42)(252,56)(252,78)(264,35)(264,49)(264,63)(264,70)
(276,28)(276,42)(276,56)(276,63)(276,70)(276,78)(288,35)(288,49)(288,70)(300,28)(300,42)(300,56)(300,63)(300,78)(312,35)(312,49)(312,63)(312,70)(312,78)(324,28)(324,42)(324,56)(324,78)(336,35)(336,49)(336,63)(336,70)(348,28)(348,42)(348,56)(348,78)
(40,12)(50,12)(60,12)(70,12)(120,12)(130,12)(140,12)(150,12)(160,12)(170,12)(180,12)(190,12)(200,12)(210,12)(220,12)(230,12)(240,12)(250,12)(260,12)(270,12)(280,12)(290,12)(300,12)(310,12)(320,12)(330,12)(340,12)(350,12)(0,12)(10,12)(20,12)(30,12)
(290,21)(300,21)(310,21)(320,21)(330,21)(340,21)(350,21)(0,21)(10,21)(20,21)(30,21)(40,21)(50,21)(60,21)(70,21)(80,21)(90,21)(100,21)(110,21)};
\addplot[gdot] coordinates {
(0,28)(0,42)(0,56)(12,35)(12,49)(12,63)(12,78)(24,28)(24,42)(24,56)(24,70)(36,35)(36,49)(36,78)(48,28)(48,42)(48,56)(48,63)(60,35)(60,49)(60,70)(72,28)(72,42)(72,56)(72,63)(72,78)
(84,35)(84,49)(84,70)(96,28)(96,42)(96,56)(96,63)(96,78)(108,35)(108,49)(108,63)(108,70)(120,28)(120,42)(120,56)(120,78)(132,35)(132,49)(132,56)(132,63)(144,28)(144,42)(144,56)(144,70)(144,78)
(156,35)(156,49)(156,63)(168,28)(168,42)(168,56)(180,35)(180,49)(180,63)(180,78)(192,28)(192,42)(192,56)(192,70)(204,35)(204,49)(204,63)(204,78)(216,28)(216,42)(216,56)(216,70)(228,35)(228,49)(228,63)(228,78)
(240,28)(240,42)(240,56)(252,35)(252,49)(252,63)(252,70)(264,28)(264,42)(264,56)(264,78)(276,35)(276,49)(288,28)(288,42)(288,56)(288,63)(288,78)(300,35)(300,49)(300,70)(312,28)(312,42)(312,56)(324,35)(324,49)(324,63)(324,70)(336,28)(336,42)(336,56)(336,78)(348,35)(348,49)(348,63)(348,70)
(80,12)(90,12)(100,12)(110,12)
(120,21)(130,21)(140,21)(150,21)(160,21)(170,21)(180,21)(190,21)(200,21)(210,21)(220,21)(230,21)(240,21)(250,21)(260,21)(270,21)(280,21)};
\addplot[hubdot] coordinates {(0,77.3)(321.1,44.1)(257.6,51.2)};
\netlabel{69,0}{CsNAC061}\netlabel{42.3,-26.7}{CsNAC127}\netlabel{-3.3,-49}{CsNAC025}
\end{axis}

% page-wide overlay in 1/3 px: column dendrogram, column names, panel letters
\begin{axis}[plain, at={(0pt,0pt)}, anchor=south west, width=749pt, height=996pt, xmin=0, xmax=2247, ymin=0, ymax=2988, y dir=reverse]
\addplot[black, line width=.8pt] coordinates {(253,133)(253,98)(439,98)(439,133)};
\addplot[black, line width=.8pt] coordinates {(810,133)(810,95)(996,95)(996,133)};
\addplot[black, line width=.8pt] coordinates {(625,133)(625,90)(903,90)(903,95)};
\addplot[black, line width=.8pt] coordinates {(345,98)(345,84)(765,84)(765,90)};
\begin{scope}[every node/.style={font=\fontsize{19.5}{19.5}\selectfont\bfseries, inner sep=0pt}]
\node at (axis cs:244,2930) {CH}; \node at (axis cs:448,2930) {CL}; \node at (axis cs:630,2930) {Root};
\node at (axis cs:819,2930) {Seeds}; \node at (axis cs:1008,2930) {Leaf};
\end{scope}
\begin{scope}[every node/.style={font=\fontsize{40}{40}\selectfont\bfseries, inner sep=0pt}]
\node at (axis cs:80,85) {a}; \node at (axis cs:1288,75) {b}; \node at (axis cs:1293,1025) {c}; \node at (axis cs:1290,2125) {d};
\end{scope}
\end{axis}

% a: heatmap
\begin{axis}[at={(53.3pt,37pt)}, anchor=south west, scale only axis, width=309.4pt, height=915pt, clip=false, heatcol,
  xmin=-0.5, xmax=4.5, ymin=-0.5, ymax=155.5, y dir=reverse, axis line style={draw=none}, major tick length=0pt,
  xtick=\empty, ytick=data, yticklabels from table={\heat}{name}, yticklabel pos=right,
  yticklabel style={font=\fontsize{6}{6}\selectfont, text=black!75, anchor=west, inner sep=0pt, xshift=1.2pt}]
\addplot[heatcell, point meta=\thisrow{CH}] table[x expr=0, y expr=\coordindex] {\heat};
\addplot[heatcell, point meta=\thisrow{CL}] table[x expr=1, y expr=\coordindex] {\heat};
\addplot[heatcell, point meta=\thisrow{Root}] table[x expr=2, y expr=\coordindex] {\heat};
\addplot[heatcell, point meta=\thisrow{Seeds}] table[x expr=3, y expr=\coordindex] {\heat};
\addplot[heatcell, point meta=\thisrow{Leaf}] table[x expr=4, y expr=\coordindex] {\heat};
\end{axis}

% colour key
\begin{axis}[at={(403.3pt,752pt)}, anchor=south west, scale only axis, width=9.4pt, height=149pt, clip=false, heatcol,
  xmin=0, xmax=1, ymin=-1.81, ymax=1.74, axis line style={draw=none}, major tick length=0pt, xtick=\empty,
  ytick={-1.5,-1,-0.5,0,0.5,1,1.5}, yticklabels={−1.5,−1,−0.5,0,0.5,1,1.5}, yticklabel pos=right,
  yticklabel style={font=\fontsize{12.5}{12.5}\selectfont, anchor=west, inner sep=0pt, xshift=4pt}]
\addplot[scatter, only marks, mark=cbcell, point meta=y] coordinates {
(0.5,-1.80)(0.5,-1.75)(0.5,-1.70)(0.5,-1.65)(0.5,-1.60)(0.5,-1.55)(0.5,-1.50)(0.5,-1.45)(0.5,-1.40)(0.5,-1.35)(0.5,-1.30)(0.5,-1.25)
(0.5,-1.20)(0.5,-1.15)(0.5,-1.10)(0.5,-1.05)(0.5,-1.00)(0.5,-0.95)(0.5,-0.90)(0.5,-0.85)(0.5,-0.80)(0.5,-0.75)(0.5,-0.70)(0.5,-0.65)
(0.5,-0.60)(0.5,-0.55)(0.5,-0.50)(0.5,-0.45)(0.5,-0.40)(0.5,-0.35)(0.5,-0.30)(0.5,-0.25)(0.5,-0.20)(0.5,-0.15)(0.5,-0.10)(0.5,-0.05)
(0.5,0)(0.5,0.05)(0.5,0.10)(0.5,0.15)(0.5,0.20)(0.5,0.25)(0.5,0.30)(0.5,0.35)(0.5,0.40)(0.5,0.45)(0.5,0.50)(0.5,0.55)
(0.5,0.60)(0.5,0.65)(0.5,0.70)(0.5,0.75)(0.5,0.80)(0.5,0.85)(0.5,0.90)(0.5,0.95)(0.5,1.00)(0.5,1.05)(0.5,1.10)(0.5,1.15)
(0.5,1.20)(0.5,1.25)(0.5,1.30)(0.5,1.35)(0.5,1.40)(0.5,1.45)(0.5,1.50)(0.5,1.55)(0.5,1.60)(0.5,1.65)(0.5,1.70)};
\end{axis}
\end{tikzpicture}
\end{document}
